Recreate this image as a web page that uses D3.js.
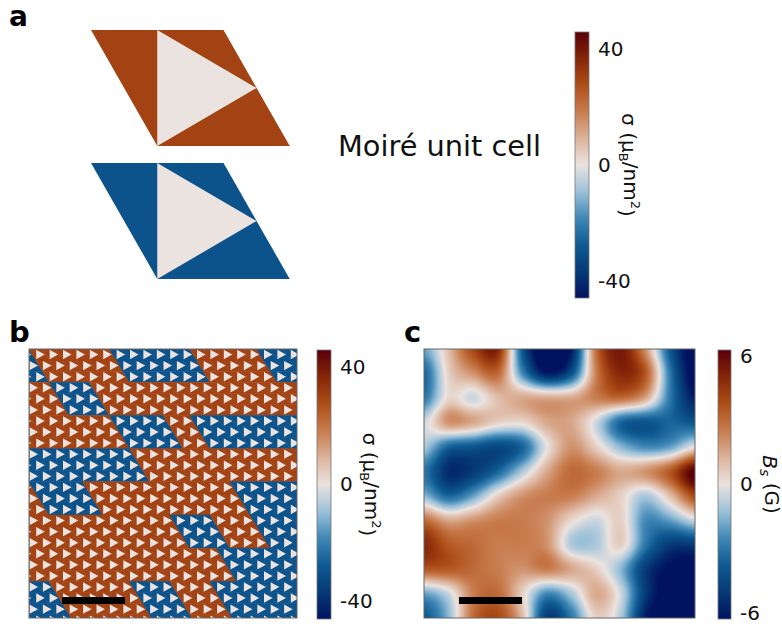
<!DOCTYPE html>
<html>
<head>
<meta charset="utf-8">
<script src="https://cdn.jsdelivr.net/npm/d3@7"></script>
<style>
  html, body { margin: 0; padding: 0; background: #fff; }
  svg { display: block; }
</style>
</head>
<body>
<svg id="fig" width="782" height="624"></svg>
<script>
// ---------------- data ----------------
// diverging colormap anchors (blue - light - orange/brown)
const vikPos = [0, 0.1, 0.2, 0.3, 0.4, 0.5, 0.6, 0.7, 0.8, 0.9, 1];
const vikCols = ["#011261", "#063a76", "#0e5a92", "#3f87b5", "#9cc1d9", "#ebe3e0",
                 "#dcb39b", "#c87c4e", "#ad4e18", "#862508", "#590008"];

// magnetisation density colour range and ticks
const sigmaDomain = [-46, 46];
const sigmaTicks = [40, 0, -40];
// stray field colour range and ticks
const bsDomain = [-6.3, 6.3];
const bsTicks = [6, 0, -6];

// unit cell: the two domain values and the non-magnetic triangle
const domainSigma = [30, -30];
const triangleSigma = 0;

// moiré lattice extent (cells across, rows down)
const latticeCols = 20;
const latticeRows = 24.3;
const rowsPerBand = 3;
// blue (negative) domain intervals of the skewed cell index, one list per band
const blueBands = [
  [[-30, 0], [6, 12], [17, 40]],
  [[0, 3]],
  [[3, 7], [9, 40]],
  [[-30, 3]],
  [[-6, -2], [9, 40]],
  [[3, 6], [9, 40]],
  [[5, 40]],
  [[-30, -9], [-3, 0], [3, 40]]
];

// stray field B_s (G) sampled on a 12 x 12 grid, top row first
const bsField = [
  [-2, 1, 4, 5, -4, -7.5, -6, 3, 5.5, 2, -4, -7],
  [-3.5, 0.5, 2, 3, -2.5, -6, -4, 2.5, 5, 3.5, -3, -7],
  [-3, 0.3, -0.5, 1, 1.5, 1.5, 1.5, 2.5, 3, 1.5, -3, -6],
  [-0.5, 2, 1.5, 0.5, 0.3, 1.5, 1.5, -0.5, -3.5, -4, -3.5, -4],
  [-1, -3.5, -4, -4.5, -3.5, 0, 2, 0.5, -1.5, -2.5, -2, 0],
  [-3, -5.5, -5, -3.5, -1, 1.5, 3, 2.5, 1.5, 2, 3.5, 6.5],
  [-1.5, -3.5, -2, 0.5, 2, 2.5, 2.5, 1.5, 0.5, -1, 1, 4],
  [3, 1.5, 2, 2.5, 2.5, 2, 0.3, -0.5, 0.5, -2.5, -2, -0.5],
  [5, 3.5, 3, 2.5, 2.5, 2, -1, -1, 0.5, -3, -5, -5],
  [3.5, 3.5, 3, 2.5, 2, 2.5, 1.5, 0.5, -1.5, -5, -6.5, -7],
  [-2, -0.5, 2.5, 3, 0.5, -2.5, -1, 1.5, -0.5, -5, -7, -7],
  [-4, -1.5, 3, 4, 1, -5, -3, 0.5, -1, -6, -7, -7]
];

// ---------------- helpers ----------------
const FONT = "DejaVu Sans, Verdana, sans-serif";
const svg = d3.select("#fig");
const defs = svg.append("defs");

const vik = d3.scaleLinear().domain(vikPos).range(vikCols)
  .interpolate(d3.interpolateRgb).clamp(true);
function colorFor(domain) {
  const norm = d3.scaleLinear().domain(domain).range([0, 1]).clamp(true);
  return v => vik(norm(v));
}
const sigmaColor = colorFor(sigmaDomain);
const bsColor = colorFor(bsDomain);

// unit cell geometry in lattice units (a1 = (1,0), a2 = (0.5,1))
const cellShape = [[0, 0], [1, 0], [1.5, 1], [0.5, 1]];
const triShape = [[0.5, 0], [0.5, 1], [1.25, 0.5]];

function polyPath(pts, sx, sy, ox, oy, k) {
  // k shrinks the shape around its centroid
  k = k || 1;
  const cx = d3.mean(pts, p => p[0]), cy = d3.mean(pts, p => p[1]);
  return "M" + pts.map(p => {
    const u = cx + (p[0] - cx) * k, v = cy + (p[1] - cy) * k;
    return sx(ox + u) + "," + sy(oy + v);
  }).join("L") + "Z";
}

function panelLabel(txt, x, y, size) {
  svg.append("text").attr("x", x).attr("y", y).text(txt)
    .attr("font-family", FONT).attr("font-weight", "bold")
    .attr("font-size", size).attr("fill", "#000");
}

function colorbar(opts) {
  const { x, y0, y1, w, domain, ticks, color, labelX, labelBuild } = opts;
  const id = "grad" + Math.round(x);
  const g = defs.append("linearGradient").attr("id", id)
    .attr("x1", 0).attr("y1", 1).attr("x2", 0).attr("y2", 0);
  d3.range(0, 1.0001, 0.02).forEach(t => {
    g.append("stop").attr("offset", t)
      .attr("stop-color", color(domain[0] + t * (domain[1] - domain[0])));
  });
  svg.append("rect").attr("x", x).attr("y", y0).attr("width", w).attr("height", y1 - y0)
    .attr("fill", `url(#${id})`).attr("stroke", "#777").attr("stroke-width", 0.8);
  const sc = d3.scaleLinear().domain(domain).range([y1, y0]);
  const ax = svg.append("g").attr("transform", `translate(${x + w},0)`)
    .call(d3.axisRight(sc).tickValues(ticks).tickSize(0).tickPadding(9)
      .tickFormat(d => String(d)));
  ax.select(".domain").remove();
  ax.selectAll("text").attr("font-family", FONT).attr("font-size", 20).attr("fill", "#111");
  const cy = (y0 + y1) / 2;
  const t = svg.append("text").attr("transform", `translate(${labelX},${cy}) rotate(90)`)
    .attr("text-anchor", "middle").attr("font-family", FONT).attr("font-size", 20)
    .attr("fill", "#111");
  labelBuild(t);
}

function sigmaLabel(t) {
  t.append("tspan").text("σ (μ");
  t.append("tspan").text("B").attr("font-size", 13).attr("dy", "0.25em");
  t.append("tspan").text("/nm").attr("dy", "-0.25em");
  t.append("tspan").text("2").attr("font-size", 13).attr("dy", "-0.55em");
  t.append("tspan").text(")").attr("dy", "0.55em");
}

// ---------------- panel a ----------------
panelLabel("a", 9, 26, 28);
const aX = d3.scaleLinear().domain([0, 1]).range([91, 223.5]);
const aYs = [d3.scaleLinear().domain([0, 1]).range([30, 146]),
             d3.scaleLinear().domain([0, 1]).range([163, 279])];
domainSigma.forEach((s, k) => {
  svg.append("path").attr("d", polyPath(cellShape, aX, aYs[k], 0, 0)).attr("fill", sigmaColor(s));
  svg.append("path").attr("d", polyPath(triShape, aX, aYs[k], 0, 0)).attr("fill", sigmaColor(triangleSigma));
});
svg.append("text").attr("x", 338).attr("y", 156).text("Moiré unit cell")
  .attr("font-family", FONT).attr("font-size", 28.8).attr("fill", "#111");

colorbar({ x: 575, y0: 32, y1: 298, w: 14, domain: sigmaDomain, ticks: sigmaTicks,
  color: sigmaColor, labelX: 622, labelBuild: sigmaLabel });

// ---------------- panel b ----------------
panelLabel("b", 9, 342, 29);
const bX = d3.scaleLinear().domain([0, latticeCols]).range([29, 297]);
const bY = d3.scaleLinear().domain([0, latticeRows]).range([349, 618]);
defs.append("clipPath").attr("id", "clipB").append("rect")
  .attr("x", 29).attr("y", 349).attr("width", 268).attr("height", 269);
const gB = svg.append("g").attr("clip-path", "url(#clipB)");

const cells = [];
for (let j = 0; j < Math.ceil(latticeRows); j++) {
  const band = blueBands[Math.min(blueBands.length - 1, Math.floor(j / rowsPerBand))];
  for (let i = -Math.ceil(j / 2) - 2; i <= latticeCols + 1; i++) {
    const blue = band.some(([s, e]) => i >= s && i < e);
    cells.push({ i, j, sigma: blue ? domainSigma[1] : domainSigma[0] });
  }
}
gB.selectAll("path.cell").data(cells).join("path").attr("class", "cell")
  .attr("d", d => polyPath(cellShape, bX, bY, d.i + d.j / 2, d.j))
  .attr("fill", d => sigmaColor(d.sigma))
  .attr("stroke", d => sigmaColor(d.sigma)).attr("stroke-width", 0.6);
gB.selectAll("path.tri").data(cells).join("path").attr("class", "tri")
  .attr("d", d => polyPath(triShape, bX, bY, d.i + d.j / 2, d.j, 0.85))
  .attr("fill", sigmaColor(triangleSigma));
svg.append("rect").attr("x", 29).attr("y", 349).attr("width", 268).attr("height", 269)
  .attr("fill", "none").attr("stroke", "#666").attr("stroke-width", 1);
svg.append("rect").attr("x", 62).attr("y", 597).attr("width", 63).attr("height", 7).attr("fill", "#000");

colorbar({ x: 317, y0: 350, y1: 619, w: 14, domain: sigmaDomain, ticks: sigmaTicks,
  color: sigmaColor, labelX: 363, labelBuild: sigmaLabel });

// ---------------- panel c ----------------
panelLabel("c", 404, 342, 29);
const cX0 = 424, cY0 = 349, cW = 271, cH = 269;
const nR = bsField.length, nC = bsField[0].length;
const gx = d3.scaleLinear().domain([0, cW]).range([0, nC - 1]);
const gy = d3.scaleLinear().domain([0, cH]).range([0, nR - 1]);
function cr(p0, p1, p2, p3, t) {
  return 0.5 * (2 * p1 + (-p0 + p2) * t + (2 * p0 - 5 * p1 + 4 * p2 - p3) * t * t +
    (-p0 + 3 * p1 - 3 * p2 + p3) * t * t * t);
}
const at = (r, c) => bsField[Math.max(0, Math.min(nR - 1, r))][Math.max(0, Math.min(nC - 1, c))];
function fieldAt(fx, fy) {
  const c = Math.floor(fx), r = Math.floor(fy), tx = fx - c, ty = fy - r;
  const rows = [-1, 0, 1, 2].map(dr =>
    cr(at(r + dr, c - 1), at(r + dr, c), at(r + dr, c + 1), at(r + dr, c + 2), tx));
  return cr(rows[0], rows[1], rows[2], rows[3], ty);
}
const canvas = document.createElement("canvas");
canvas.width = cW; canvas.height = cH;
const ctx = canvas.getContext("2d");
const img = ctx.createImageData(cW, cH);
for (let py = 0; py < cH; py++) {
  for (let px = 0; px < cW; px++) {
    const v = fieldAt(gx(px + 0.5), gy(py + 0.5));
    const c = d3.rgb(bsColor(v));
    const k = 4 * (py * cW + px);
    img.data[k] = c.r; img.data[k + 1] = c.g; img.data[k + 2] = c.b; img.data[k + 3] = 255;
  }
}
ctx.putImageData(img, 0, 0);
svg.append("image").attr("x", cX0).attr("y", cY0).attr("width", cW).attr("height", cH)
  .attr("preserveAspectRatio", "none").attr("href", canvas.toDataURL());
svg.append("rect").attr("x", cX0).attr("y", cY0).attr("width", cW).attr("height", cH)
  .attr("fill", "none").attr("stroke", "#666").attr("stroke-width", 1);
svg.append("rect").attr("x", 459).attr("y", 597).attr("width", 63).attr("height", 7).attr("fill", "#000");

colorbar({ x: 718, y0: 350, y1: 619, w: 13, domain: bsDomain, ticks: bsTicks,
  color: bsColor, labelX: 763, labelBuild: t => {
    t.append("tspan").text("B").attr("font-style", "italic");
    t.append("tspan").text("s").attr("font-style", "italic").attr("font-size", 14).attr("dy", "0.25em");
    t.append("tspan").text(" (G)").attr("dy", "-0.25em");
  } });
</script>
</body>
</html>
